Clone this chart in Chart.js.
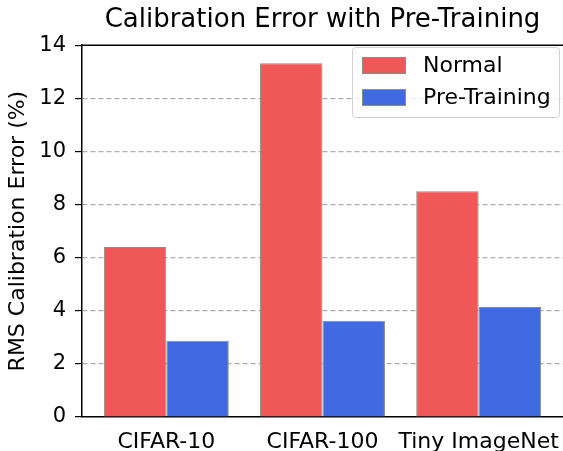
<!DOCTYPE html>
<html lang="en">
<head>
<meta charset="UTF-8">
<title>Calibration Error with Pre-Training</title>
<style>
  body { margin: 0; background: #fff; }
  #wrap { width: 563px; height: 451px; }
</style>
</head>
<body>
<div id="wrap"><canvas id="chart" width="563" height="451"></canvas></div>
<script src="https://cdn.jsdelivr.net/npm/chart.js"></script>
<script>
  // data
  const datasetsNames = ['CIFAR-10', 'CIFAR-100', 'Tiny ImageNet'];
  const normalErr = [6.4, 13.32, 8.5];
  const pretrainErr = [2.87, 3.62, 4.14];
  const yTicks = [0, 2, 4, 6, 8, 10, 12, 14];

  const FONT = 'DejaVu Sans';

  // legend box drawn inside the plot, plus the top spine
  const extras = {
    id: 'extras',
    afterDraw(chart) {
      const { ctx, chartArea } = chart;
      ctx.save();
      // top spine
      ctx.strokeStyle = '#000';
      ctx.lineWidth = 1.5;
      ctx.beginPath();
      ctx.moveTo(chartArea.left, chartArea.top);
      ctx.lineTo(chartArea.right, chartArea.top);
      ctx.stroke();

      // legend
      const x0 = 352, y0 = 47, w = 207, h = 70;
      ctx.fillStyle = 'rgba(255,255,255,0.8)';
      ctx.strokeStyle = '#d0d0d0';
      ctx.lineWidth = 1;
      ctx.beginPath();
      ctx.roundRect(x0 + 0.5, y0 + 0.5, w, h, 3);
      ctx.fill();
      ctx.stroke();
      ctx.font = '22px ' + FONT;
      ctx.textBaseline = 'middle';
      chart.data.datasets.forEach((ds, i) => {
        const cy = y0 + 18 + i * 32;
        ctx.fillStyle = ds.backgroundColor;
        ctx.fillRect(x0 + 10, cy - 8, 43, 16);
        ctx.strokeStyle = ds.borderColor;
        ctx.strokeRect(x0 + 10.5, cy - 7.5, 43, 16);
        ctx.fillStyle = '#000';
        ctx.fillText(ds.label, x0 + 71, cy + 1);
      });
      ctx.restore();
    }
  };

  new Chart(document.getElementById('chart'), {
    type: 'bar',
    data: {
      datasets: [
        {
          label: 'Normal',
          data: normalErr.map((v, i) => ({ x: i, y: v })),
          backgroundColor: '#f05757',
          borderColor: '#8c8c8c',
          borderWidth: 1,
          categoryPercentage: 0.8,
          barPercentage: 1.0
        },
        {
          label: 'Pre-Training',
          data: pretrainErr.map((v, i) => ({ x: i, y: v })),
          backgroundColor: '#4169e1',
          borderColor: '#8c8c8c',
          borderWidth: 1,
          categoryPercentage: 0.8,
          barPercentage: 1.0
        }
      ]
    },
    options: {
      responsive: false,
      animation: false,
      layout: { padding: 0 },
      plugins: {
        legend: { display: false },
        tooltip: { enabled: false },
        title: {
          display: true,
          fullSize: false,
          text: 'Calibration Error with Pre-Training',
          color: '#000',
          font: { family: FONT, size: 26, weight: 'normal' },
          padding: { top: 5, bottom: 9 }
        }
      },
      scales: {
        x: {
          type: 'linear',
          offset: false,
          min: -0.54,
          max: 2.54,
          afterBuildTicks: s => { s.ticks = datasetsNames.map((_, i) => ({ value: i })); },
          afterFit: s => { s.height = 34; s.paddingLeft = 0; s.paddingRight = 0; },
          ticks: {
            callback: v => datasetsNames[v],
            color: '#000',
            font: { family: FONT, size: 22 },
            padding: 12,
            maxRotation: 0,
            autoSkip: false
          },
          grid: { display: false, drawTicks: false },
          border: { color: '#000', width: 1.5 }
        },
        y: {
          min: 0,
          max: 14,
          afterBuildTicks: s => { s.ticks = yTicks.map(v => ({ value: v })); },
          afterFit: s => { s.width = 82; s.paddingTop = 0; s.paddingBottom = 0; },
          ticks: {
            color: '#000',
            font: { family: FONT, size: 21 },
            padding: 9
          },
          grid: {
            color: c => (c.tick && (c.tick.value === 0 || c.tick.value === 14)) ? 'rgba(0,0,0,0)' : '#b0b0b0',
            lineWidth: 1.2,
            tickBorderDash: [],
            tickColor: '#000',
            tickLength: 7,
            tickWidth: 1.2
          },
          border: { color: '#000', width: 1.5, dash: [5, 3] },
          title: {
            display: true,
            text: 'RMS Calibration Error (%)',
            color: '#000',
            font: { family: FONT, size: 22 },
            padding: { top: 5, bottom: 0 }
          }
        }
      }
    },
    plugins: [extras]
  });
</script>
</body>
</html>
